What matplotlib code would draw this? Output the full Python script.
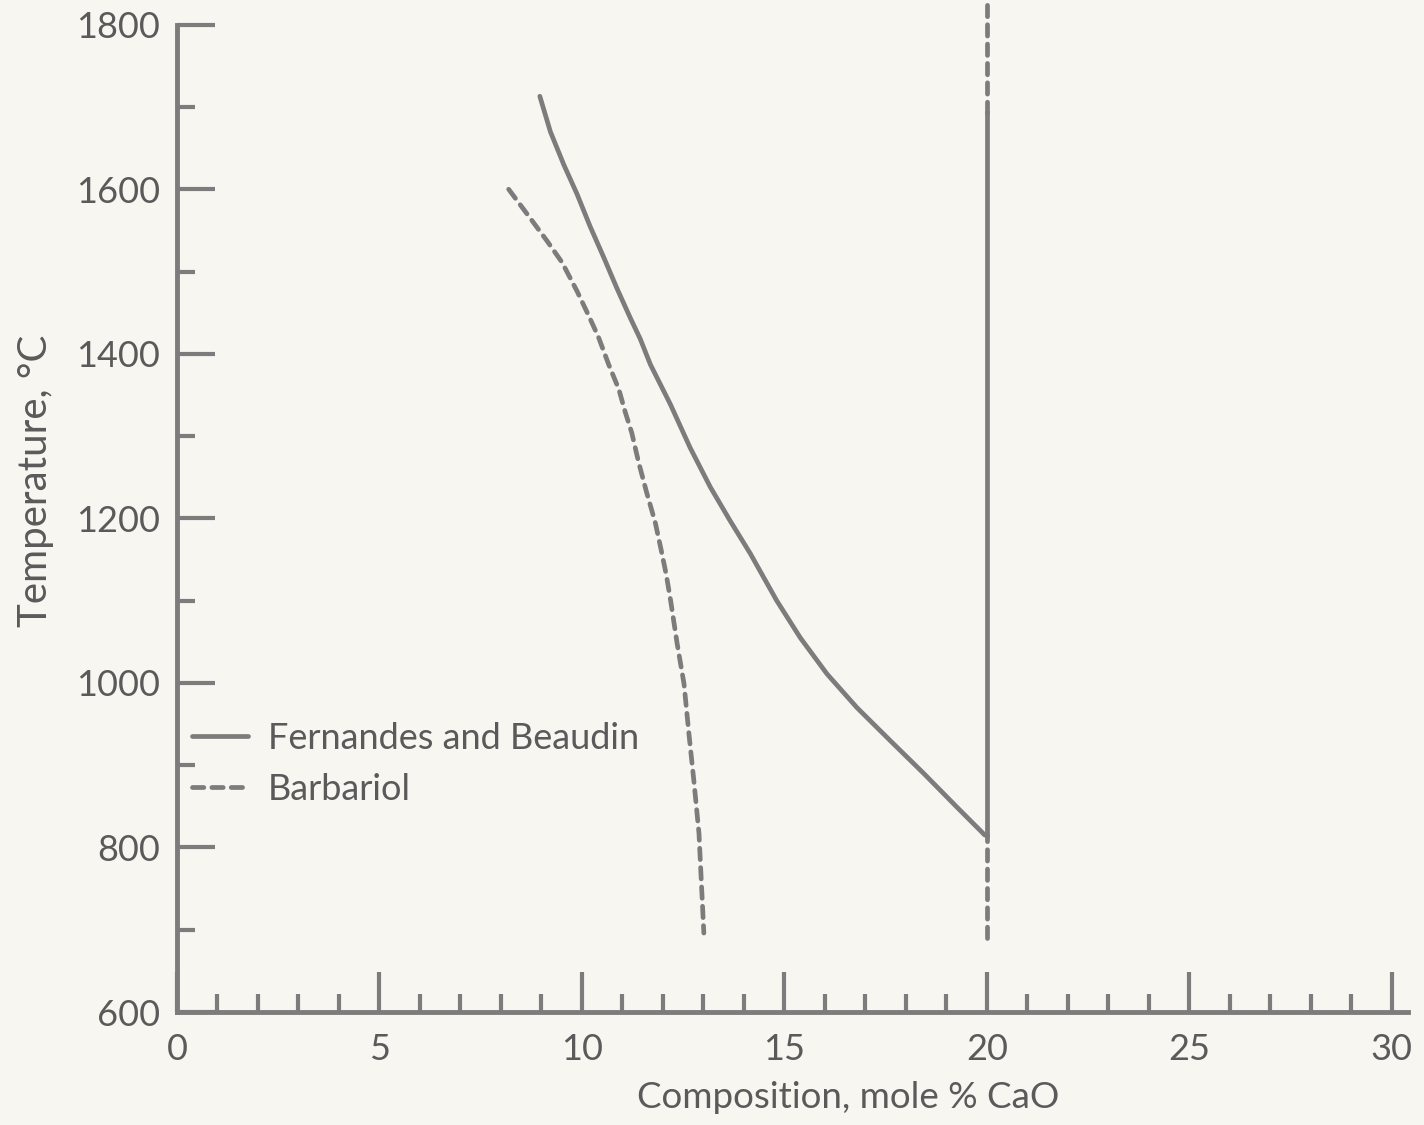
import matplotlib.pyplot as plt
from matplotlib.ticker import MultipleLocator

# Fernandes and Beaudin liquidus curve (mole % CaO, deg C)
fb_x = [8.96, 9.22, 9.55, 9.88, 10.20, 10.54, 10.86, 11.19, 11.44, 11.69,
        12.18, 12.67, 13.17, 13.66, 14.16, 14.49, 14.81, 15.39, 16.05,
        16.79, 17.61, 18.44, 19.26, 19.95]
fb_t = [1713, 1670, 1630, 1594, 1555, 1517, 1480, 1444, 1418, 1387,
        1339, 1286, 1238, 1197, 1157, 1128, 1100, 1055, 1011,
        970, 930, 890, 849, 815]

# Barbariol curve
bb_x = [8.19, 8.72, 9.14, 9.51, 9.88, 10.17, 10.41, 10.66, 10.91, 11.07,
        11.23, 11.40, 11.60, 11.81, 11.95, 12.08, 12.19, 12.35, 12.52,
        12.64, 12.77, 12.89, 13.01]
bb_t = [1600, 1565, 1537, 1511, 1476, 1446, 1420, 1387, 1357, 1329,
        1304, 1268, 1231, 1195, 1163, 1132, 1100, 1048, 999,
        939, 878, 817, 696]

# vertical boundary at 20 mole %
wall_x = 20
wall_solid = [815, 1693]
wall_low = [690, 815]
wall_high = [1693, 1830]

ink = '#7c7c7c'
text_c = '#5a5a5a'
plt.rcParams['font.family'] = ['Lato', 'DejaVu Sans']

fig = plt.figure(figsize=(14.24, 11.25), dpi=100, facecolor='#f7f6f1')
ax = fig.add_axes([0.1243, 0.1004, 0.8645, 0.8996])
ax.set_facecolor('#f7f6f1')

lw = 3.4
dash = dict(linestyle=(0, (2.4, 1.7)), dash_capstyle='round')
ax.plot(fb_x, fb_t, color=ink, lw=lw, solid_capstyle='round',
        solid_joinstyle='round', label='Fernandes and Beaudin')
ax.plot(bb_x, bb_t, color=ink, lw=lw, label='Barbariol', **dash)
ax.plot([wall_x, wall_x], wall_solid, color=ink, lw=lw)
ax.plot([wall_x, wall_x], wall_low, color=ink, lw=lw, **dash)
ax.plot([wall_x, wall_x], wall_high, color=ink, lw=lw, **dash)

ax.set_xlim(0, 30.4)
ax.set_ylim(600, 1830)
for s in ['top', 'right']:
    ax.spines[s].set_visible(False)
for s in ['left', 'bottom']:
    ax.spines[s].set_linewidth(3.5)
    ax.spines[s].set_color(ink)
ax.spines['left'].set_bounds(600, 1800)

ax.xaxis.set_major_locator(MultipleLocator(5))
ax.xaxis.set_minor_locator(MultipleLocator(1))
ax.set_yticks([600, 800, 1000, 1200, 1400, 1600, 1800])
ax.set_yticks([700, 900, 1100, 1300, 1500, 1700], minor=True)
ax.set_xticks(range(0, 31, 5))

ax.tick_params(axis='x', which='major', direction='in', length=29, width=3,
               color=ink, labelsize=26, labelcolor=text_c, pad=15)
ax.tick_params(axis='x', which='minor', direction='in', length=13, width=3,
               color=ink)
ax.tick_params(axis='y', which='major', direction='in', length=27, width=3,
               color=ink, labelsize=26, labelcolor=text_c, pad=12)
ax.tick_params(axis='y', which='minor', direction='in', length=13, width=3,
               color=ink)

ax.set_xlabel('Composition, mole % CaO', fontsize=26.5, color=text_c)
ax.xaxis.set_label_coords(0.545, -0.068)
ax.set_ylabel('Temperature, °C', fontsize=29, color=text_c)
ax.yaxis.set_label_coords(-0.1, 0.525)

leg = ax.legend(loc='upper left', bbox_to_anchor=(0.012, 0.287), frameon=False,
                fontsize=26, handlelength=1.55, handletextpad=0.55,
                labelspacing=0.5, borderpad=0, borderaxespad=0)
for t in leg.get_texts():
    t.set_color(text_c)

fig.savefig('out.png', dpi=100, facecolor=fig.get_facecolor())
